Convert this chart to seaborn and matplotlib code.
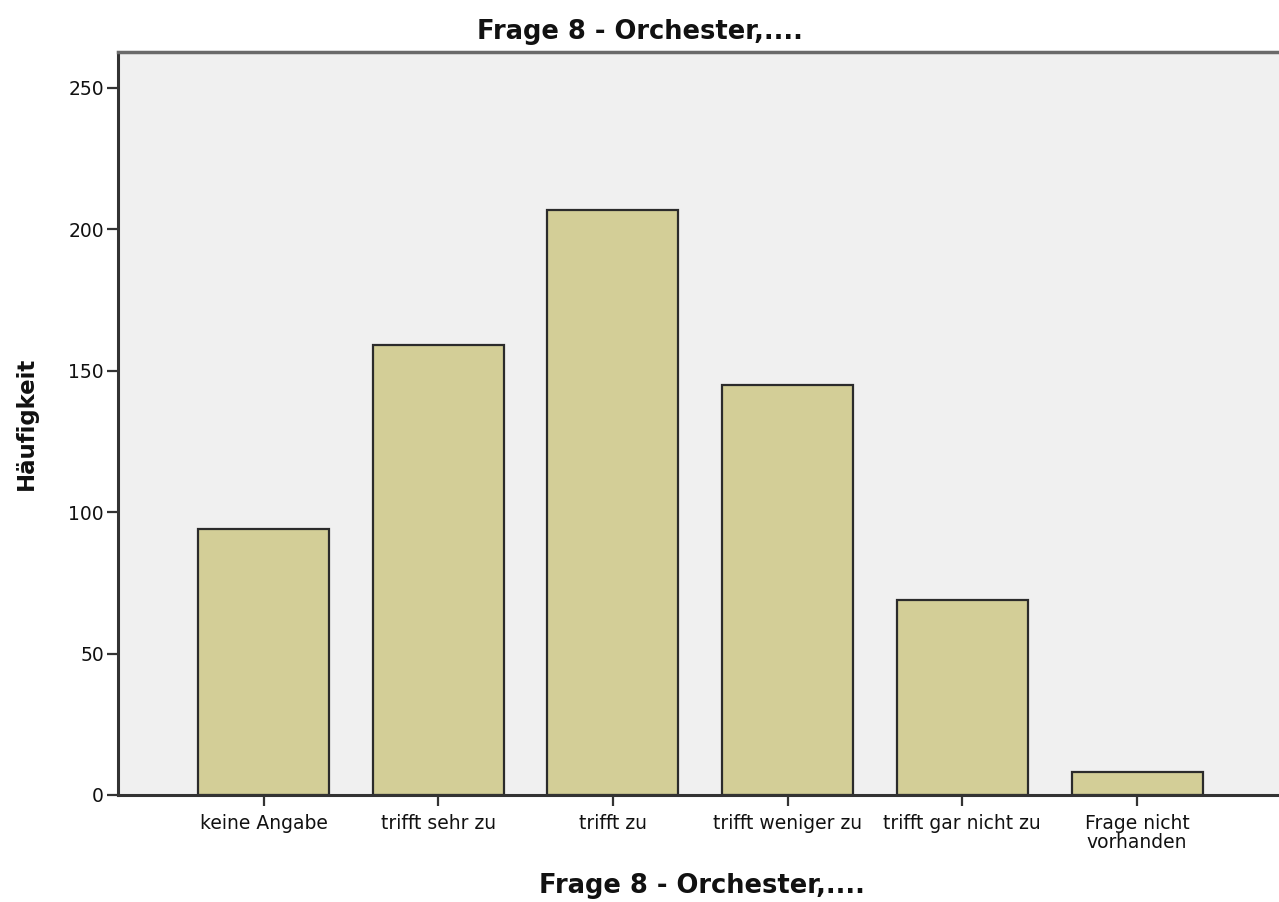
import matplotlib
matplotlib.use("Agg")
import matplotlib.pyplot as plt
import seaborn as sns
import pandas as pd

categories = ["keine Angabe", "trifft sehr zu", "trifft zu", "trifft weniger zu",
              "trifft gar nicht zu", "Frage nicht\nvorhanden"]
counts = [94, 159, 207, 145, 69, 8]
yticks = [0, 50, 100, 150, 200, 250]

title = "Frage 8 - Orchester,...."
xlabel = "Frage 8 - Orchester,...."
ylabel = "Häufigkeit"

sns.set_theme(style="white")
plt.rcParams['font.family'] = ['DejaVu Sans']

df = pd.DataFrame({"cat": categories, "n": counts})

fig = plt.figure(figsize=(12.79, 9.02), dpi=100)
W, H = 1279, 902
ax = fig.add_axes([118 / W, 1 - 795 / H, (1285 - 118) / W, 743 / H])
ax.set_facecolor("#F0F0F0")

sns.barplot(data=df, x="cat", y="n", color="#D3CE97", saturation=1,
            edgecolor="#2b2b2b", linewidth=1.6, width=0.75, ax=ax)

ax.set_xlim(-0.833, -0.833 + (1285 - 118) / 174.7)
ax.set_ylim(0, 262.7)
ax.set_yticks(yticks)
ax.set_yticklabels([str(v) for v in yticks])

ax.tick_params(axis="both", which="both", direction="out", length=8, width=1.6,
               color="#333333", labelsize=13.5, labelcolor="#111111")
ax.tick_params(axis="x", pad=6)
ax.tick_params(axis="y", pad=2, left=True)
ax.tick_params(axis="x", bottom=True)
for lbl in ax.get_xticklabels():
    lbl.set_multialignment("center")
    lbl.set_linespacing(0.95)

for side in ["left", "bottom"]:
    ax.spines[side].set_color("#333333")
    ax.spines[side].set_linewidth(2.2)
ax.spines["top"].set_color("#6a6a6a")
ax.spines["top"].set_linewidth(2.5)
ax.spines["right"].set_visible(False)

ax.set_xlabel(xlabel, fontsize=18.5, fontweight="bold", labelpad=15, color="#111111")
ax.set_ylabel(ylabel, fontsize=16.5, fontweight="bold", labelpad=22, color="#111111")
fig.text(0.5, 1 - 39 / H, title, ha="center", va="baseline",
         fontsize=18.5, fontweight="bold", color="#111111")

fig.savefig("out.png", dpi=100)
